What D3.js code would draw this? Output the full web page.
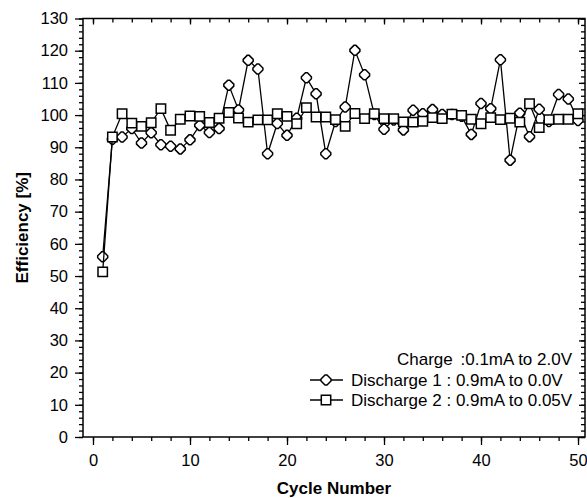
<!DOCTYPE html>
<html>
<head>
<meta charset="utf-8">
<script src="https://cdn.jsdelivr.net/npm/d3@7"></script>
<style>
  body { margin: 0; background: #fff; }
  svg { font-family: "Liberation Sans", Arial, sans-serif; }
</style>
</head>
<body>
<div id="chart"></div>
<script>
// Cycle numbers and the two efficiency series
const cycles = d3.range(1, 51);
const discharge1 = [56, 92.5, 93.2, 95.8, 91.3, 94.5, 90.8, 90.3, 89.5, 92.3,
  96.8, 94.6, 95.8, 109.3, 101.6, 117, 114.3, 88, 97.4, 93.7,
  99, 111.6, 106.6, 88, 98, 102.5, 120.1, 112.5, 100.2, 95.6,
  98.5, 95.4, 101.5, 100.4, 101.7, 100.2, 100.2, 99.6, 94, 103.6,
  102, 117.2, 86, 100.6, 93.3, 101.8, 98, 106.4, 105, 98.3];
const discharge2 = [51.3, 93.2, 100.4, 97.5, 96.5, 97.6, 102, 95.3, 98.7, 99.7,
  99.6, 97.7, 99, 100.8, 99.1, 97.8, 98.5, 98.5, 100.4, 99.6,
  97.3, 102.3, 99.4, 99.4, 98.6, 96.5, 100.5, 98.9, 100.4, 98.9,
  98.9, 97.9, 97.8, 98.1, 99.2, 98.9, 100.3, 99.9, 98.7, 97.3,
  99.2, 98.6, 99, 97.8, 103.5, 96.1, 98.6, 98.7, 98.7, 100.4];
const xTicks = [0, 10, 20, 30, 40, 50];
const yTicks = d3.range(0, 131, 10);
const legendCharge = ["Charge", ":0.1mA to 2.0V"];
const legendLabels = ["Discharge 1 : 0.9mA to 0.0V", "Discharge 2 : 0.9mA to 0.05V"];

const width = 587, height = 498;
const plotLeft = 83, plotRight = 585, plotTop = 18.5, plotBottom = 437;

const svg = d3.select("#chart").append("svg")
  .attr("width", width)
  .attr("height", height);

const x = d3.scaleLinear().domain([-1.03, 50.72]).range([plotLeft, plotRight]);
const y = d3.scaleLinear().domain([0, 130]).range([plotBottom, plotTop]);

// axes: major + minor ticks on all four sides
const addAxis = (axis, tx, ty) => {
  const g = svg.append("g").attr("transform", `translate(${tx},${ty})`).call(axis);
  g.select(".domain").remove();
  g.selectAll("line").attr("stroke", "#000").attr("stroke-width", 1.3);
  g.selectAll("text").attr("fill", "#000").style("font-size", "16.5px");
  return g;
};
const xMinor = d3.range(0, 51, 2);
const yMinor = d3.range(0, 131, 2);

addAxis(d3.axisBottom(x).tickValues(xMinor).tickSize(4).tickFormat(""), 0, plotBottom);
addAxis(d3.axisBottom(x).tickValues(xTicks).tickSize(8).tickPadding(9), 0, plotBottom);
addAxis(d3.axisBottom(x).tickValues(xMinor).tickSize(4).tickFormat(""), 0, plotTop);
addAxis(d3.axisBottom(x).tickValues(xTicks).tickSize(6).tickFormat(""), 0, plotTop);
addAxis(d3.axisLeft(y).tickValues(yMinor).tickSize(4).tickFormat(""), plotLeft, 0);
addAxis(d3.axisLeft(y).tickValues(yTicks).tickSize(8).tickPadding(7), plotLeft, 0);
addAxis(d3.axisLeft(y).tickValues(yMinor).tickSize(4).tickFormat(""), plotRight, 0);
addAxis(d3.axisLeft(y).tickValues(yTicks).tickSize(6).tickFormat(""), plotRight, 0);

// frame
svg.append("rect")
  .attr("x", plotLeft).attr("y", plotTop)
  .attr("width", plotRight - plotLeft).attr("height", plotBottom - plotTop)
  .attr("fill", "none").attr("stroke", "#000").attr("stroke-width", 1.5);

// marker shapes
const diamondPath = "M-1,-5L1,-5L5,-1L5,1L1,5L-1,5L-5,1L-5,-1Z";
const squarePath = "M-4.7,-4.7H4.7V4.7H-4.7Z";

const line = d3.line().x(d => x(d[0])).y(d => y(d[1]));

const drawSeries = (values, shape) => {
  const pts = cycles.map((c, i) => [c, values[i]]);
  svg.append("path")
    .datum(pts)
    .attr("d", line)
    .attr("fill", "none")
    .attr("stroke", "#000")
    .attr("stroke-width", 1.3);
  svg.append("g").selectAll("path")
    .data(pts)
    .join("path")
    .attr("d", shape)
    .attr("transform", d => `translate(${x(d[0])},${y(d[1])})`)
    .attr("fill", "#fff")
    .attr("stroke", "#000")
    .attr("stroke-width", 1.5);
};
drawSeries(discharge1, diamondPath);
drawSeries(discharge2, squarePath);

// legend
const legend = svg.append("g").style("font-size", "17px").attr("fill", "#000");
legend.append("text").attr("x", 397).attr("y", 365).text(legendCharge[0]);
legend.append("text").attr("x", 572).attr("y", 365).attr("text-anchor", "end").text(legendCharge[1]);
[diamondPath, squarePath].forEach((shape, i) => {
  const ly = 380 + i * 20;
  legend.append("line")
    .attr("x1", 310).attr("x2", 343).attr("y1", ly).attr("y2", ly)
    .attr("stroke", "#000").attr("stroke-width", 1.3);
  legend.append("path")
    .attr("d", shape)
    .attr("transform", `translate(326,${ly})`)
    .attr("fill", "#fff").attr("stroke", "#000").attr("stroke-width", 1.5);
  legend.append("text")
    .attr("x", 351).attr("y", ly + 6)
    .text(legendLabels[i]);
});

// axis titles
svg.append("text")
  .attr("x", (plotLeft + plotRight) / 2).attr("y", 494)
  .attr("text-anchor", "middle")
  .style("font-size", "17px").style("font-weight", "bold")
  .text("Cycle Number");
svg.append("text")
  .attr("transform", `translate(28,${(plotTop + plotBottom) / 2}) rotate(-90)`)
  .attr("text-anchor", "middle")
  .style("font-size", "17px").style("font-weight", "bold")
  .text("Efficiency [%]");
</script>
</body>
</html>
